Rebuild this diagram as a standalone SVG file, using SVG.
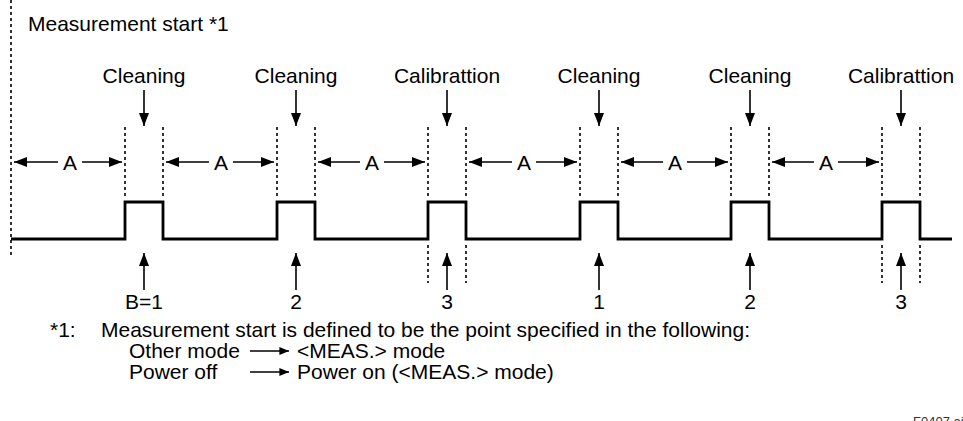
<svg xmlns="http://www.w3.org/2000/svg" width="963" height="421" viewBox="0 0 963 421">
<defs>
<style>
text{font-family:"Liberation Sans",Arial,sans-serif;fill:#000;font-size:21px}
.lbl{text-anchor:middle}
.dot{stroke:#000;stroke-width:1.6;stroke-dasharray:3,3;fill:none}
.ln{stroke:#000;stroke-width:1.6;fill:none}
.sig{stroke:#000;stroke-width:2.8;fill:none}
</style>
<marker id="ah" viewBox="0 0 12 10" refX="12" refY="5" markerWidth="12" markerHeight="8" markerUnits="userSpaceOnUse" orient="auto"><path d="M0,0 L12,5 L0,10 z" fill="#000"/></marker>
<marker id="ahb" viewBox="0 0 13 10" refX="13" refY="5" markerWidth="13" markerHeight="10" markerUnits="userSpaceOnUse" orient="auto"><path d="M0,0 L13,5 L0,10 z" fill="#000"/></marker>
</defs>
<rect width="963" height="421" fill="#fff"/>
<g id="start">
<line class="dot" x1="11" y1="0" x2="11" y2="256"/>
<text x="28" y="31">Measurement start *1</text>
</g>
<g id="signal">
<path class="sig" d="M11,239 H125 V202 H163 V239 H277 V202 H315 V239 H428 V202 H466 V239 H580 V202 H618 V239 H731 V202 H769 V239 H882 V202 H920 V239 H952"/>
</g>
<g id="pulse1"><text class="lbl" x="144" y="83">Cleaning</text><line class="dot" x1="125" y1="127" x2="125" y2="197"/><line class="dot" x1="163" y1="127" x2="163" y2="197"/><text class="lbl" x="144" y="309">B=1</text></g>
<g id="pulse2"><text class="lbl" x="296" y="83">Cleaning</text><line class="dot" x1="277" y1="127" x2="277" y2="197"/><line class="dot" x1="315" y1="127" x2="315" y2="197"/><text class="lbl" x="296" y="309">2</text></g>
<g id="pulse3"><text class="lbl" x="447" y="83">Calibrattion</text><line class="dot" x1="428" y1="127" x2="428" y2="197"/><line class="dot" x1="466" y1="127" x2="466" y2="197"/><line class="dot" x1="428" y1="245" x2="428" y2="283"/><line class="dot" x1="466" y1="245" x2="466" y2="283"/><text class="lbl" x="447" y="309">3</text></g>
<g id="pulse4"><text class="lbl" x="599" y="83">Cleaning</text><line class="dot" x1="580" y1="127" x2="580" y2="197"/><line class="dot" x1="618" y1="127" x2="618" y2="197"/><text class="lbl" x="599" y="309">1</text></g>
<g id="pulse5"><text class="lbl" x="750" y="83">Cleaning</text><line class="dot" x1="731" y1="127" x2="731" y2="197"/><line class="dot" x1="769" y1="127" x2="769" y2="197"/><text class="lbl" x="750" y="309">2</text></g>
<g id="pulse6"><text class="lbl" x="901" y="83">Calibrattion</text><line class="dot" x1="882" y1="127" x2="882" y2="197"/><line class="dot" x1="920" y1="127" x2="920" y2="197"/><line class="dot" x1="882" y1="245" x2="882" y2="283"/><line class="dot" x1="920" y1="245" x2="920" y2="283"/><text class="lbl" x="901" y="309">3</text></g>
<g id="intervals">
<text class="lbl" x="70" y="170">A</text>
<text class="lbl" x="221" y="170">A</text>
<text class="lbl" x="372" y="170">A</text>
<text class="lbl" x="524" y="170">A</text>
<text class="lbl" x="675" y="170">A</text>
<text class="lbl" x="826" y="170">A</text>
</g>
<g id="connectors">
<line class="ln" x1="144" y1="90" x2="144" y2="126" marker-end="url(#ahb)"/>
<line class="ln" x1="296" y1="90" x2="296" y2="126" marker-end="url(#ahb)"/>
<line class="ln" x1="447" y1="90" x2="447" y2="126" marker-end="url(#ahb)"/>
<line class="ln" x1="599" y1="90" x2="599" y2="126" marker-end="url(#ahb)"/>
<line class="ln" x1="750" y1="90" x2="750" y2="126" marker-end="url(#ahb)"/>
<line class="ln" x1="901" y1="90" x2="901" y2="126" marker-end="url(#ahb)"/>
<line class="ln" x1="144" y1="290" x2="144" y2="253" marker-end="url(#ahb)"/>
<line class="ln" x1="296" y1="290" x2="296" y2="253" marker-end="url(#ahb)"/>
<line class="ln" x1="447" y1="290" x2="447" y2="253" marker-end="url(#ahb)"/>
<line class="ln" x1="599" y1="290" x2="599" y2="253" marker-end="url(#ahb)"/>
<line class="ln" x1="750" y1="290" x2="750" y2="253" marker-end="url(#ahb)"/>
<line class="ln" x1="901" y1="290" x2="901" y2="253" marker-end="url(#ahb)"/>
<line class="ln" x1="58" y1="162" x2="14" y2="162" marker-end="url(#ahb)"/>
<line class="ln" x1="82" y1="162" x2="122" y2="162" marker-end="url(#ahb)"/>
<line class="ln" x1="209" y1="162" x2="166" y2="162" marker-end="url(#ahb)"/>
<line class="ln" x1="233" y1="162" x2="274" y2="162" marker-end="url(#ahb)"/>
<line class="ln" x1="360" y1="162" x2="318" y2="162" marker-end="url(#ahb)"/>
<line class="ln" x1="384" y1="162" x2="425" y2="162" marker-end="url(#ahb)"/>
<line class="ln" x1="512" y1="162" x2="469" y2="162" marker-end="url(#ahb)"/>
<line class="ln" x1="536" y1="162" x2="577" y2="162" marker-end="url(#ahb)"/>
<line class="ln" x1="663" y1="162" x2="621" y2="162" marker-end="url(#ahb)"/>
<line class="ln" x1="687" y1="162" x2="728" y2="162" marker-end="url(#ahb)"/>
<line class="ln" x1="814" y1="162" x2="772" y2="162" marker-end="url(#ahb)"/>
<line class="ln" x1="838" y1="162" x2="879" y2="162" marker-end="url(#ahb)"/>
<line class="ln" x1="250" y1="351" x2="289" y2="351" marker-end="url(#ah)"/>
<line class="ln" x1="250" y1="372" x2="289" y2="372" marker-end="url(#ah)"/>
</g>
<g id="footnote">
<text x="50" y="337">*1:</text>
<text x="101" y="337">Measurement start is defined to be the point specified in the following:</text>
<text x="129" y="358">Other mode</text>
<text x="297" y="358">&lt;MEAS.&gt; mode</text>
<text x="129" y="379">Power off</text>
<text x="297" y="379">Power on (&lt;MEAS.&gt; mode)</text>
<text x="913" y="426" style="font-size:13px;fill:#333">F0407.ai</text>
</g>
</svg>
